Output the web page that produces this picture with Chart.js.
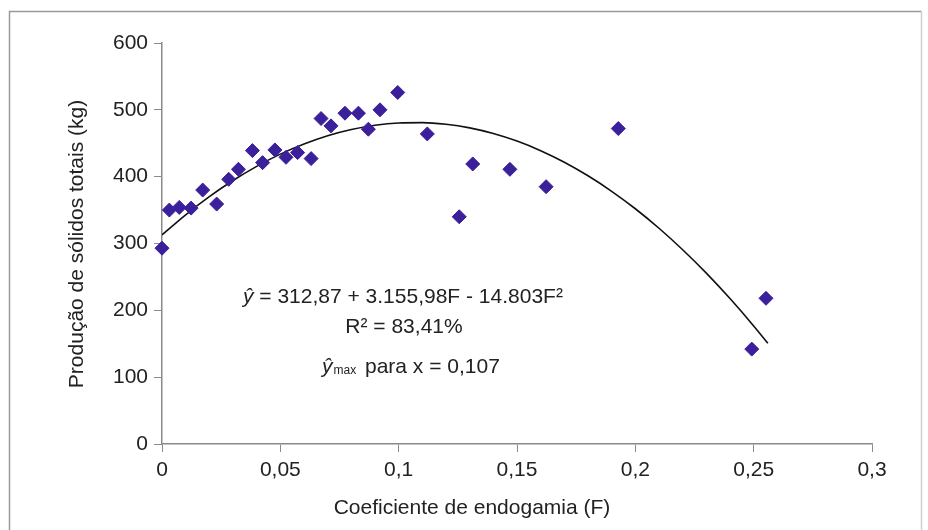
<!DOCTYPE html>
<html>
<head>
<meta charset="utf-8">
<script src="https://cdn.jsdelivr.net/npm/chart.js@4/dist/chart.umd.min.js"></script>
<style>
  html, body { margin: 0; padding: 0; background: #ffffff; }
  #wrap { position: relative; width: 928px; height: 530px; }
  canvas { display: block; }
</style>
</head>
<body>
<div id="wrap"><canvas id="c" width="928" height="530"></canvas></div>
<script>
const inbreedingF = [0, 0.0031, 0.0073, 0.0123, 0.0172, 0.0231, 0.0282, 0.0323, 0.0382, 0.0425,
  0.0477, 0.0524, 0.0573, 0.063, 0.0672, 0.0714, 0.0773, 0.083, 0.0872, 0.0921,
  0.0996, 0.1121, 0.1256, 0.1313, 0.147, 0.1623, 0.1928, 0.2492, 0.2552];
const solidsKg = [293, 350, 354, 353, 380, 359, 396, 411, 439, 421,
  440, 429, 436, 427, 487, 476, 495, 495, 471, 500,
  526, 464, 340, 419, 411, 385, 472, 142, 218];

// Fitted trend curve
const curveF = [0, 0.01, 0.02, 0.03, 0.04, 0.05, 0.06, 0.07, 0.08, 0.09, 0.1, 0.11, 0.12, 0.13,
  0.14, 0.15, 0.16, 0.17, 0.18, 0.19, 0.2, 0.21, 0.22, 0.23, 0.24, 0.25, 0.256];
const curveKg = [312.9, 343.0, 370.1, 394.2, 415.4, 433.7, 448.9, 461.3, 470.6, 477.0, 480.4, 480.9, 478.4, 473.0,
  464.6, 453.2, 438.9, 421.6, 401.3, 378.1, 352.0, 322.8, 290.7, 255.7, 217.6, 176.7, 150.7];

const yTicks = [0, 100, 200, 300, 400, 500, 600];
const xTicks = [0, 0.05, 0.1, 0.15, 0.2, 0.25, 0.3];

const xTitle = 'Coeficiente de endogamia (F)';
const yTitle = 'Produção de sólidos totais (kg)';
const eqLine1 = ' = 312,87 + 3.155,98F - 14.803F²';
const eqLine2 = 'R² = 83,41%';
const eqLine3 = 'para x = 0,107';

const FONT = '"Liberation Sans", Arial, Helvetica, sans-serif';
const AXIS = '#8a8a8a';

const points = inbreedingF.map((x, i) => ({ x: x, y: solidsKg[i] }));
const curve = curveF.map((x, i) => ({ x: x, y: curveKg[i] }));

const decorPlugin = {
  id: 'decor',
  beforeDraw(chart) {
    const ctx = chart.ctx;
    ctx.save();
    ctx.fillStyle = '#ffffff';
    ctx.fillRect(0, 0, chart.width, chart.height);
    ctx.strokeStyle = '#9a9a9a';
    ctx.lineWidth = 1.5;
    ctx.beginPath();
    ctx.moveTo(9.5, 530);
    ctx.lineTo(9.5, 11.5);
    ctx.lineTo(921.5, 11.5);
    ctx.stroke();
    ctx.strokeStyle = '#d0d0d0';
    ctx.beginPath();
    ctx.moveTo(921.5, 11.5);
    ctx.lineTo(921.5, 530);
    ctx.stroke();
    ctx.restore();
  },
  afterDraw(chart) {
    const ctx = chart.ctx;
    ctx.save();
    ctx.fillStyle = '#222222';
    ctx.textBaseline = 'middle';
    // axis titles
    ctx.font = '21px ' + FONT;
    ctx.textAlign = 'center';
    ctx.fillText(xTitle, 472, 508);
    ctx.save();
    ctx.translate(77, 244);
    ctx.rotate(-Math.PI / 2);
    ctx.fillText(yTitle, 0, 0);
    ctx.restore();

    // equation annotations
    ctx.textAlign = 'left';
    ctx.font = 'italic 21px ' + FONT;
    ctx.fillText('ŷ', 243, 297);
    const yw = ctx.measureText('ŷ').width;
    ctx.font = '21px ' + FONT;
    ctx.fillText(eqLine1, 243 + yw, 297);

    ctx.textAlign = 'center';
    ctx.fillText(eqLine2, 404, 327);

    ctx.textAlign = 'left';
    ctx.font = 'italic 21px ' + FONT;
    ctx.fillText('ŷ', 322, 367);
    const yw2 = ctx.measureText('ŷ').width;
    ctx.font = '12px ' + FONT;
    ctx.fillText('max', 322 + yw2 + 1, 371);
    ctx.font = '21px ' + FONT;
    ctx.fillText(eqLine3, 365, 367);
    ctx.restore();
  }
};

new Chart(document.getElementById('c'), {
  type: 'scatter',
  data: {
    datasets: [
      {
        label: 'observado',
        data: points,
        pointStyle: 'rectRot',
        pointRadius: 7,
        pointHoverRadius: 7,
        backgroundColor: '#3c1f9a',
        borderColor: '#3c1f9a',
        borderWidth: 1,
        clip: false,
        order: 0
      },
      {
        label: 'ajuste',
        type: 'line',
        data: curve,
        borderColor: '#111111',
        borderWidth: 1.6,
        pointRadius: 0,
        fill: false,
        cubicInterpolationMode: 'monotone',
        order: 1
      }
    ]
  },
  options: {
    responsive: false,
    animation: false,
    devicePixelRatio: 1,
    layout: { padding: { left: 0, right: 56, top: 43, bottom: 0 } },
    plugins: {
      legend: { display: false },
      tooltip: { enabled: false }
    },
    scales: {
      x: {
        type: 'linear',
        min: 0,
        max: 0.3,
        afterBuildTicks(scale) { scale.ticks = xTicks.map(v => ({ value: v })); },
        afterFit(scale) { scale.height = 86; },
        grid: { display: true, drawOnChartArea: false, drawTicks: true, tickLength: 8, color: AXIS, tickColor: AXIS, lineWidth: 1 },
        border: { display: true, color: AXIS, width: 1.5 },
        ticks: {
          padding: 6,
          color: '#222222',
          font: { family: FONT, size: 21 },
          maxRotation: 0,
          callback: (v) => String(Number(Number(v).toFixed(2))).replace('.', ',')
        }
      },
      y: {
        type: 'linear',
        min: 0,
        max: 600,
        afterBuildTicks(scale) { scale.ticks = yTicks.map(v => ({ value: v })); },
        afterFit(scale) { scale.width = 162; },
        grid: { display: true, drawOnChartArea: false, drawTicks: true, tickLength: 8, color: AXIS, tickColor: AXIS, lineWidth: 1 },
        border: { display: true, color: AXIS, width: 1.5 },
        ticks: {
          padding: 6,
          color: '#222222',
          font: { family: FONT, size: 21 },
          callback: (v) => String(v)
        }
      }
    }
  },
  plugins: [decorPlugin]
});
</script>
</body>
</html>
